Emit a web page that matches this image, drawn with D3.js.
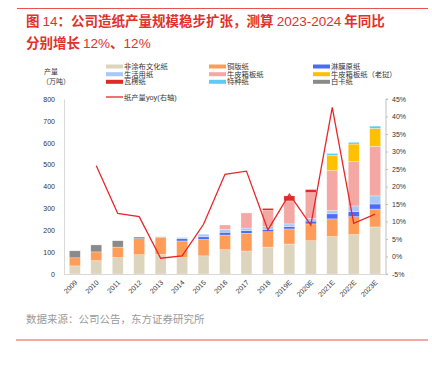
<!DOCTYPE html>
<html>
<head>
<meta charset="utf-8">
<script src="https://cdn.jsdelivr.net/npm/d3@7"></script>
<style>
  body { margin: 0; background: #fff; }
  text { font-family: "Liberation Sans", Arial, "Noto Sans CJK SC", sans-serif; }
</style>
</head>
<body>
<script>
// years / categories
const years = ["2009", "2010", "2011", "2012", "2013", "2014", "2015", "2016", "2017", "2018",
    "2019E", "2020E", "2021E", "2022E", "2023E"];

// production by paper type (万吨)
const uncoated = [37, 61, 75, 88, 90, 75, 83, 111, 105, 123, 137, 152, 171, 180, 215];
const coated = [37, 40, 48, 73, 78, 76, 75, 67, 81, 70, 69, 77, 81, 82, 82];
const laminated = [0, 0, 0, 0, 0, 10, 12, 13, 12, 11, 10, 13, 23, 23, 23];
const tissue = [0, 0, 0, 0, 0, 6, 12, 13, 12, 12, 13, 13, 15, 26, 37];
const kraft = [0, 0, 0, 0, 0, 0, 0, 20, 69, 75, 105, 117, 183, 203, 227];
const corrugated = [0, 0, 0, 0, 0, 0, 0, 0, 0, 9, 23, 14, 0, 0, 0];
const kraftLaos = [0, 0, 0, 0, 0, 0, 0, 0, 0, 0, 0, 0, 70, 80, 82];
const specialty = [0, 0, 0, 0, 0, 0, 0, 0, 0, 0, 0, 0, 8, 8, 10];
const ivory = [32, 32, 29, 8, 2, 0, 0, 0, 0, 0, 0, 0, 0, 0, 0];

// yoy growth of total output (%), right axis
const yoy = [null, 25.9, 12.3, 11.4, -0.5, 0.2, 9.2, 23.5, 24.4, 7.6, 17.8, 9.0, 42.6, 9.5, 12.1];

const leftTicks = [0, 100, 200, 300, 400, 500, 600, 700, 800];
const rightTicks = [-5, 0, 5, 10, 15, 20, 25, 30, 35, 40, 45];

const series = [
    { key: "uncoated", name: "非涂布文化纸", values: uncoated, color: "#ddd4bd" },
    { key: "coated", name: "铜版纸", values: coated, color: "#fe9c58" },
    { key: "laminated", name: "淋膜原纸", values: laminated, color: "#4c6cf6" },
    { key: "tissue", name: "生活用纸", values: tissue, color: "#a8c8fa" },
    { key: "kraft", name: "牛皮箱板纸", values: kraft, color: "#f4a7a3" },
    { key: "corrugated", name: "瓦楞纸", values: corrugated, color: "#df2a27" },
    { key: "kraftLaos", name: "牛皮箱板纸（老挝）", values: kraftLaos, color: "#ffc000" },
    { key: "specialty", name: "特种纸", values: specialty, color: "#5ccdf2" },
    { key: "ivory", name: "白卡纸", values: ivory, color: "#8a8a8a" }
];

// legend order as in the picture (3 columns)
const legendOrder = ["uncoated", "coated", "laminated", "tissue", "kraft", "kraftLaos", "corrugated", "specialty", "ivory"];

const w = 432, h = 366;
const svg = d3.select("body").append("svg")
    .attr("width", w)
    .attr("height", h);

const red = "#e2302c";

// top / bottom rules
svg.append("line").attr("x1", 17).attr("x2", 428).attr("y1", 8.5).attr("y2", 8.5)
    .attr("stroke", "#e8534b").attr("stroke-width", 1);
svg.append("line").attr("x1", 16).attr("x2", 428).attr("y1", 340).attr("y2", 340)
    .attr("stroke", "#e8534b").attr("stroke-width", 1);

// title: CJK bold, latin digits regular
const title = svg.append("g")
    .attr("fill", red)
    .style("font-size", "13.5px");
const titleLines = [
    ["图 ", "14", "：公司造纸产量规模稳步扩张，测算 ", "2023-2024", " 年同比"],
    ["分别增长 ", "12%", "、", "12%"]
];
titleLines.forEach(function (parts, li) {
    const t = title.append("text").attr("x", 26).attr("y", 26 + li * 22);
    parts.forEach(function (p, j) {
        t.append("tspan")
            .style("font-family", j % 2 ? "'Liberation Sans', Arial, sans-serif" : "'Noto Sans CJK SC', sans-serif")
            .style("font-weight", j % 2 ? "normal" : "bold")
            .text(p);
    });
});

// scales
let xPadLeft = 64, xPadRight = 386;
let yTop = 99, yBottom = 274;

const xScale = d3.scaleBand()
    .domain(years)
    .range([xPadLeft, xPadRight])
    .paddingInner(0.49)
    .paddingOuter(0.25);

const yScale = d3.scaleLinear().domain([0, 800]).range([yBottom, yTop]);
const y2Scale = d3.scaleLinear().domain([-5, 45]).range([yBottom, yTop]);

// stacked data
const table = years.map(function (yr, i) {
    const row = { year: yr };
    series.forEach(function (s) { row[s.key] = s.values[i]; });
    return row;
});
const stack = d3.stack().keys(series.map(function (s) { return s.key; }));
const stacked = stack(table);
const colorOf = {};
series.forEach(function (s) { colorOf[s.key] = s.color; });

svg.append("g")
    .selectAll("g")
    .data(stacked)
    .enter()
    .append("g")
    .attr("fill", function (d) { return colorOf[d.key]; })
    .selectAll("rect")
    .data(function (d) { return d; })
    .enter()
    .append("rect")
    .attr("x", function (d) { return xScale(d.data.year); })
    .attr("width", xScale.bandwidth())
    .attr("y", function (d) { return yScale(d[1]); })
    .attr("height", function (d) { return yScale(d[0]) - yScale(d[1]); })
    .attr("stroke", "#fff")
    .attr("stroke-opacity", 0.6)
    .attr("stroke-width", function (d) { return d[1] > d[0] ? 0.5 : 0; });

// left axis
const leftAxis = svg.append("g")
    .attr("transform", "translate(" + xPadLeft + ",0)")
    .call(d3.axisLeft(yScale).tickValues(leftTicks).tickSize(0).tickPadding(9));
leftAxis.select(".domain").attr("stroke", "#d9d9d9");
leftAxis.selectAll("text").style("font-size", "7px").attr("fill", "#333");

// right axis
const rightAxis = svg.append("g")
    .attr("transform", "translate(" + xPadRight + ",0)")
    .call(d3.axisRight(y2Scale).tickValues(rightTicks).tickSize(2).tickPadding(4)
        .tickFormat(function (d) { return d + "%"; }));
rightAxis.select(".domain").attr("stroke", "#bfbfbf").attr("d", "M2," + yTop + "H0V" + yBottom + "H2");
rightAxis.selectAll(".tick line").attr("stroke", "#bfbfbf");
rightAxis.selectAll("text").style("font-size", "7px").attr("fill", "#333");

// bottom axis
const bottomAxis = svg.append("g")
    .attr("transform", "translate(0," + yBottom + ")")
    .call(d3.axisBottom(xScale).tickSize(0).tickPadding(0));
bottomAxis.select(".domain").attr("stroke", "#d9d9d9").attr("d", "M" + xPadLeft + ",0.5H" + xPadRight);
bottomAxis.selectAll("text")
    .style("font-size", "7px")
    .attr("fill", "#333")
    .attr("text-anchor", "end")
    .attr("dy", "0")
    .attr("transform", "translate(3,9) rotate(-45)");

// yoy line
const line = d3.line()
    .defined(function (d) { return d != null; })
    .x(function (d, i) { return xScale(years[i]) + xScale.bandwidth() / 2; })
    .y(function (d) { return y2Scale(d); });

svg.append("path")
    .datum(yoy)
    .attr("fill", "none")
    .attr("stroke", "#e8262a")
    .attr("stroke-width", 1.3)
    .attr("stroke-linejoin", "miter")
    .attr("d", line);

// axis caption
svg.append("text").attr("x", 51).attr("y", 73.5).attr("text-anchor", "middle")
    .style("font-size", "7px").attr("fill", "#333").text("产量");
svg.append("text").attr("x", 56).attr("y", 84).attr("text-anchor", "middle")
    .style("font-size", "7px").attr("fill", "#333").text("（万吨）");

// legend
const colX = [106, 209, 313];
const rowY = [66.5, 74.2, 81.8, 89.4];
const legend = svg.append("g").style("font-size", "7.3px");
legendOrder.forEach(function (k, i) {
    const s = series.find(function (d) { return d.key === k; });
    const cx = colX[i % 3];
    const cy = rowY[Math.floor(i / 3)];
    legend.append("rect").attr("x", cx).attr("y", cy - 2).attr("width", 17).attr("height", 4)
        .attr("fill", s.color);
    legend.append("text").attr("x", cx + 18).attr("y", cy + 2.6).attr("fill", "#333").text(s.name);
});
legend.append("line").attr("x1", colX[0]).attr("x2", colX[0] + 17)
    .attr("y1", 97).attr("y2", 97).attr("stroke", "#e8262a").attr("stroke-width", 1.3);
legend.append("text").attr("x", colX[0] + 18).attr("y", 99.6).attr("fill", "#333").text("纸产量yoy(右轴)");

// source
svg.append("text").attr("x", 26).attr("y", 323)
    .style("font-size", "10.5px").attr("fill", "#9a9a9a")
    .text("数据来源：公司公告，东方证券研究所");
</script>
</body>
</html>
